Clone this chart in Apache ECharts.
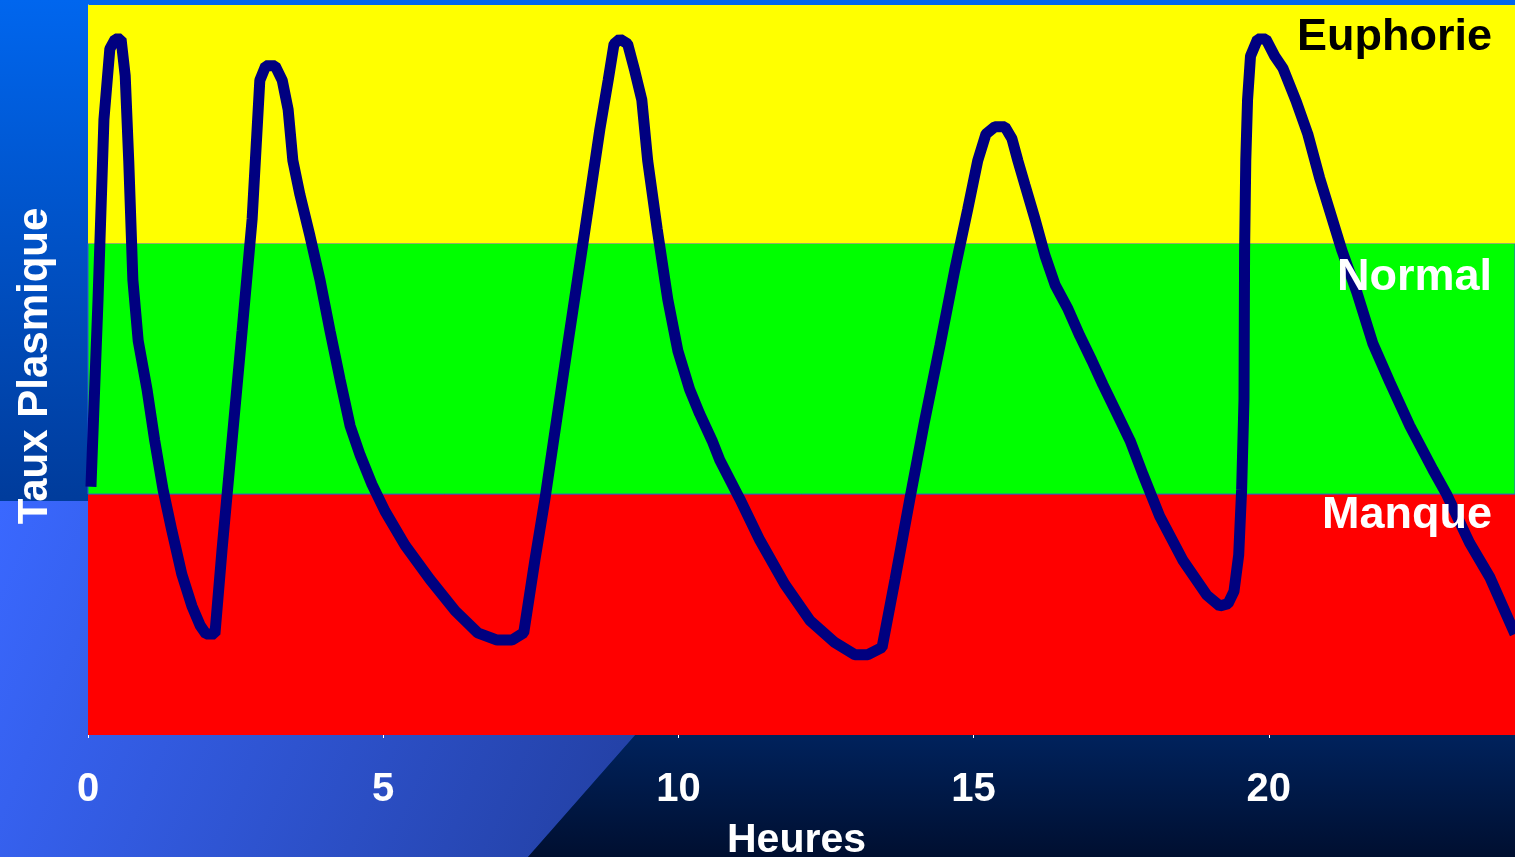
<!DOCTYPE html>
<html>
<head>
<meta charset="utf-8">
<title>Taux Plasmique</title>
<script src="https://cdn.jsdelivr.net/npm/echarts@6.0.0/dist/echarts.min.js"></script>
<style>
  html, body { margin: 0; padding: 0; background: #003a99; }
  #main { width: 1515px; height: 857px; }
</style>
</head>
<body>
<div id="main"></div>
<script>
// heures (axe x) et taux plasmique (unités arbitraires, 0-3)
const hours = [
  0.05, 0.17, 0.27, 0.37, 0.46, 0.56, 0.63, 0.69, 0.76, 0.85,
  1.00, 1.13, 1.27, 1.42, 1.59, 1.76, 1.90, 2.00, 2.15, 2.27,
  2.44, 2.61, 2.78, 2.91, 3.01, 3.17, 3.29, 3.39, 3.47, 3.59,
  3.76, 3.93, 4.10, 4.27, 4.44, 4.61, 4.81, 5.03, 5.37, 5.79,
  6.22, 6.60, 6.93, 7.18, 7.38, 7.57, 7.74, 7.91, 8.16, 8.42,
  8.67, 8.81, 8.91, 9.01, 9.14, 9.26, 9.38, 9.48, 9.64, 9.82,
  9.99, 10.19, 10.36, 10.57, 10.70, 11.04, 11.38, 11.80, 12.23, 12.65,
  12.99, 13.21, 13.45, 13.67, 13.92, 14.17, 14.43, 14.68, 14.90, 15.07,
  15.21, 15.36, 15.53, 15.65, 15.75, 15.87, 16.04, 16.21, 16.38, 16.60,
  16.80, 17.00, 17.19, 17.39, 17.65, 17.87, 18.15, 18.54, 18.95, 19.17,
  19.31, 19.41, 19.49, 19.54, 19.58, 19.59, 19.61, 19.64, 19.69, 19.81,
  19.95, 20.10, 20.24, 20.47, 20.66, 20.86, 21.24, 21.49, 21.76, 22.05,
  22.39, 22.78, 23.01, 23.40, 23.74, 24.17
];
const taux = [
  1.02, 1.79, 2.53, 2.82, 2.86, 2.86, 2.71, 2.36, 1.87, 1.62,
  1.42, 1.21, 1.01, 0.84, 0.66, 0.53, 0.45, 0.415, 0.415, 0.76,
  1.21, 1.66, 2.12, 2.69, 2.75, 2.75, 2.69, 2.57, 2.36, 2.22,
  2.05, 1.87, 1.66, 1.46, 1.27, 1.15, 1.03, 0.92, 0.78, 0.64,
  0.51, 0.42, 0.39, 0.39, 0.42, 0.72, 0.97, 1.25, 1.66, 2.08,
  2.49, 2.69, 2.84, 2.86, 2.84, 2.73, 2.61, 2.36, 2.08, 1.79,
  1.58, 1.42, 1.32, 1.21, 1.13, 0.97, 0.80, 0.62, 0.47, 0.38,
  0.33, 0.33, 0.36, 0.64, 0.97, 1.29, 1.60, 1.91, 2.16, 2.36,
  2.47, 2.50, 2.50, 2.45, 2.36, 2.26, 2.12, 1.97, 1.85, 1.75,
  1.64, 1.54, 1.44, 1.34, 1.21, 1.07, 0.90, 0.72, 0.575, 0.53,
  0.54, 0.59, 0.74, 1.01, 1.38, 1.99, 2.36, 2.61, 2.79, 2.86,
  2.86, 2.79, 2.74, 2.60, 2.47, 2.29, 1.99, 1.82, 1.61, 1.45,
  1.27, 1.09, 0.99, 0.79, 0.65, 0.415
];
// zones : Manque, Normal, Euphorie
const bandNames = ["Manque", "Normal", "Euphorie"];
const bandEdges = [0, 0.99, 2.02, 3];
const bandColors = ["#ff0000", "#00ff00", "#ffff00"];
const bandTextColors = ["#ffffff", "#ffffff", "#000000"];
const bandLabelDy = [-1, 12, 10];
const xMax = 24.17;

const chart = echarts.init(document.getElementById("main"));

const font = "'Liberation Sans', Arial, sans-serif";

const areaFill = bandNames.map((name, i) => [
  {
    yAxis: bandEdges[i],
    itemStyle: {
      color: bandColors[i],
      borderColor: i === 1 ? "#2a5ad8" : bandColors[i],
      borderWidth: i === 1 ? 1 : 0
    }
  },
  { yAxis: bandEdges[i + 1] }
]);

const areaLabels = bandNames.map((name, i) => [
  {
    name: name,
    yAxis: bandEdges[i + 1],
    label: {
      color: bandTextColors[i],
      offset: [-23, bandLabelDy[i]]
    }
  },
  { yAxis: bandEdges[i] }
]);

const option = {
  animation: false,
  graphic: [
    {
      type: "rect",
      z: -10,
      shape: { x: 0, y: 0, width: 1515, height: 857 },
      style: {
        fill: new echarts.graphic.LinearGradient(0, 0, 0, 1, [
          { offset: 0, color: "#0066ee" },
          { offset: 0.58, color: "#003c9c" },
          { offset: 1, color: "#002a70" }
        ])
      }
    },
    {
      type: "polygon",
      z: -9,
      shape: { points: [[0, 501], [841, 501], [528, 857], [0, 857]] },
      style: {
        fill: new echarts.graphic.LinearGradient(0, 0, 1, 1, [
          { offset: 0, color: "#3a68ff" },
          { offset: 1, color: "#1c3488" }
        ])
      }
    },
    {
      type: "polygon",
      z: -9,
      shape: { points: [[841, 501], [1515, 501], [1515, 857], [528, 857]] },
      style: {
        fill: new echarts.graphic.LinearGradient(0, 0, 0, 1, [
          { offset: 0, color: "#002a70" },
          { offset: 0.66, color: "#00225c" },
          { offset: 1, color: "#000f30" }
        ])
      }
    }
  ],
  grid: {
    left: 88,
    right: 0,
    top: 5,
    bottom: 122,
    containLabel: false,
    outerBoundsMode: "none"
  },
  xAxis: {
    type: "value",
    min: 0,
    max: xMax,
    interval: 5,
    name: "Heures",
    nameLocation: "middle",
    nameGap: 85,
    nameTextStyle: {
      color: "#ffffff",
      fontFamily: font,
      fontWeight: "bold",
      fontSize: 41,
      padding: [0, 10, 0, 0]
    },
    axisLine: { show: false },
    axisTick: { show: true, length: 3, lineStyle: { color: "#ffffff" } },
    splitLine: { show: false },
    axisLabel: {
      color: "#ffffff",
      fontFamily: font,
      fontWeight: "bold",
      fontSize: 40,
      margin: 35,
      formatter: v => (v % 5 === 0 ? String(v) : "")
    }
  },
  yAxis: {
    type: "value",
    min: 0,
    max: 3,
    name: "Taux Plasmique",
    nameLocation: "middle",
    nameRotate: 90,
    nameGap: 32,
    nameTextStyle: {
      color: "#ffffff",
      fontFamily: font,
      fontWeight: "bold",
      fontSize: 42,
      padding: [0, 0, 0, 8]
    },
    axisLine: { show: true, lineStyle: { color: "#dfe8ff", width: 1 } },
    axisTick: { show: false },
    axisLabel: { show: false },
    splitLine: { show: false }
  },
  series: [
    {
      name: "Taux",
      type: "line",
      z: 2,
      symbol: "none",
      smooth: false,
      lineStyle: { color: "#000080", width: 11, join: "bevel" },
      data: hours.map((h, i) => [h, taux[i]]),
      markArea: {
        silent: true,
        z: 1,
        label: { show: false },
        data: areaFill
      }
    },
    {
      name: "Zones",
      type: "line",
      z: 5,
      data: [],
      markArea: {
        silent: true,
        z: 5,
        itemStyle: { color: "rgba(0,0,0,0)" },
        label: {
          show: true,
          position: "insideTopRight",
          distance: 0,
          fontFamily: font,
          fontWeight: "bold",
          fontSize: 45
        },
        data: areaLabels
      }
    }
  ]
};

chart.setOption(option);
window.onresize = function() {
  chart.resize();
};
</script>
</body>
</html>
